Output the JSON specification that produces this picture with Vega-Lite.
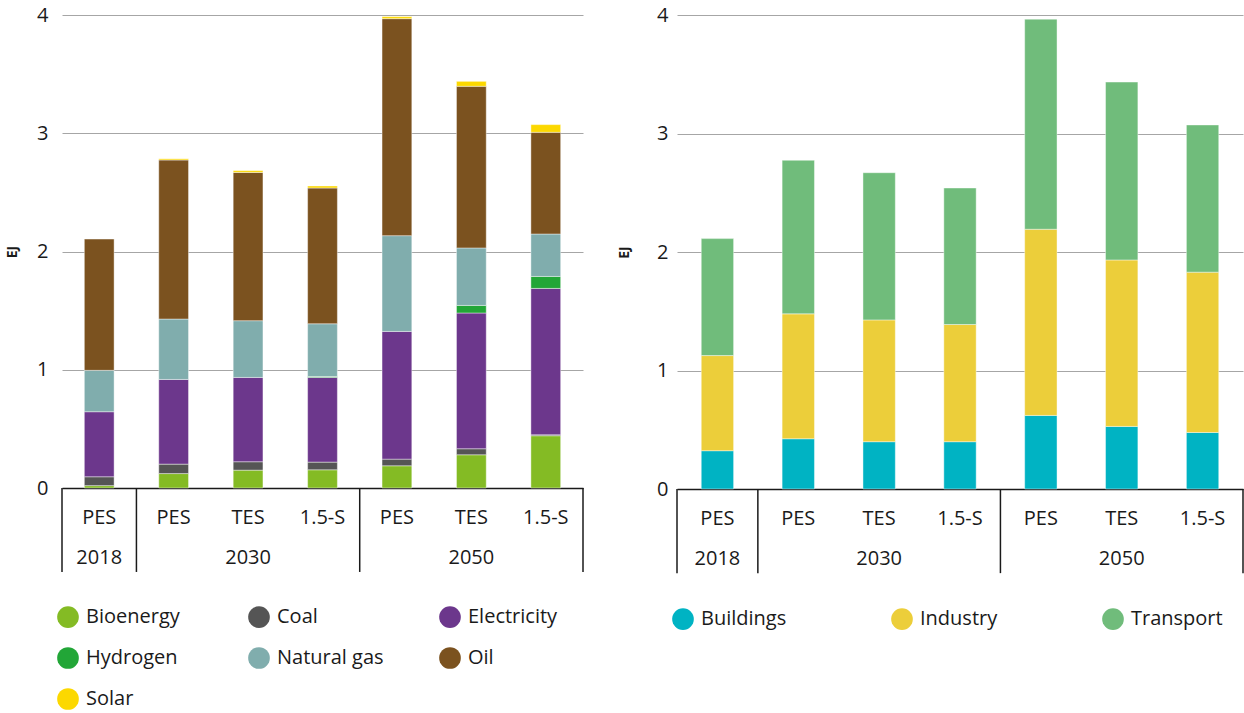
{
  "$schema": "https://vega.github.io/schema/vega-lite/v6.json",
  "background": "white",
  "padding": {"left": 5, "top": 5, "right": 0, "bottom": 0},
  "spacing": 33,
  "resolve": {"scale": {"color": "independent", "x": "independent", "y": "independent"}, "legend": {"color": "independent"}},
  "config": {
    "view": {"stroke": null},
    "font": "Open Sans",
    "axis": {"labelFont": "Open Sans", "titleFont": "Open Sans"},
    "legend": {"labelFont": "Open Sans"}
  },
  "datasets": {
    "fuel": [
      {"bar": "2018 PES", "fuel": "Bioenergy", "value": 0.02},
      {"bar": "2018 PES", "fuel": "Coal", "value": 0.075},
      {"bar": "2018 PES", "fuel": "Electricity", "value": 0.55},
      {"bar": "2018 PES", "fuel": "Natural gas", "value": 0.35},
      {"bar": "2018 PES", "fuel": "Oil", "value": 1.11},
      {"bar": "2030 PES", "fuel": "Bioenergy", "value": 0.122},
      {"bar": "2030 PES", "fuel": "Coal", "value": 0.08},
      {"bar": "2030 PES", "fuel": "Electricity", "value": 0.716},
      {"bar": "2030 PES", "fuel": "Natural gas", "value": 0.511},
      {"bar": "2030 PES", "fuel": "Oil", "value": 1.345},
      {"bar": "2030 PES", "fuel": "Solar", "value": 0.01},
      {"bar": "2030 TES", "fuel": "Bioenergy", "value": 0.151},
      {"bar": "2030 TES", "fuel": "Coal", "value": 0.071},
      {"bar": "2030 TES", "fuel": "Electricity", "value": 0.713},
      {"bar": "2030 TES", "fuel": "Natural gas", "value": 0.48},
      {"bar": "2030 TES", "fuel": "Oil", "value": 1.254},
      {"bar": "2030 TES", "fuel": "Solar", "value": 0.015},
      {"bar": "2030 1.5-S", "fuel": "Bioenergy", "value": 0.154},
      {"bar": "2030 1.5-S", "fuel": "Coal", "value": 0.065},
      {"bar": "2030 1.5-S", "fuel": "Electricity", "value": 0.716},
      {"bar": "2030 1.5-S", "fuel": "Hydrogen", "value": 0.008},
      {"bar": "2030 1.5-S", "fuel": "Natural gas", "value": 0.446},
      {"bar": "2030 1.5-S", "fuel": "Oil", "value": 1.148},
      {"bar": "2030 1.5-S", "fuel": "Solar", "value": 0.017},
      {"bar": "2050 PES", "fuel": "Bioenergy", "value": 0.188},
      {"bar": "2050 PES", "fuel": "Coal", "value": 0.056},
      {"bar": "2050 PES", "fuel": "Electricity", "value": 1.08},
      {"bar": "2050 PES", "fuel": "Natural gas", "value": 0.81},
      {"bar": "2050 PES", "fuel": "Oil", "value": 1.835},
      {"bar": "2050 PES", "fuel": "Solar", "value": 0.017},
      {"bar": "2050 TES", "fuel": "Bioenergy", "value": 0.281},
      {"bar": "2050 TES", "fuel": "Coal", "value": 0.051},
      {"bar": "2050 TES", "fuel": "Electricity", "value": 1.148},
      {"bar": "2050 TES", "fuel": "Hydrogen", "value": 0.064},
      {"bar": "2050 TES", "fuel": "Natural gas", "value": 0.486},
      {"bar": "2050 TES", "fuel": "Oil", "value": 1.367},
      {"bar": "2050 TES", "fuel": "Solar", "value": 0.042},
      {"bar": "2050 1.5-S", "fuel": "Bioenergy", "value": 0.442},
      {"bar": "2050 1.5-S", "fuel": "Coal", "value": 0.008},
      {"bar": "2050 1.5-S", "fuel": "Electricity", "value": 1.238},
      {"bar": "2050 1.5-S", "fuel": "Hydrogen", "value": 0.101},
      {"bar": "2050 1.5-S", "fuel": "Natural gas", "value": 0.359},
      {"bar": "2050 1.5-S", "fuel": "Oil", "value": 0.86},
      {"bar": "2050 1.5-S", "fuel": "Solar", "value": 0.065}
    ],
    "sector": [
      {"bar": "2018 PES", "sector": "Buildings", "value": 0.323},
      {"bar": "2018 PES", "sector": "Industry", "value": 0.803},
      {"bar": "2018 PES", "sector": "Transport", "value": 0.987},
      {"bar": "2030 PES", "sector": "Buildings", "value": 0.424},
      {"bar": "2030 PES", "sector": "Industry", "value": 1.054},
      {"bar": "2030 PES", "sector": "Transport", "value": 1.296},
      {"bar": "2030 TES", "sector": "Buildings", "value": 0.399},
      {"bar": "2030 TES", "sector": "Industry", "value": 1.028},
      {"bar": "2030 TES", "sector": "Transport", "value": 1.242},
      {"bar": "2030 1.5-S", "sector": "Buildings", "value": 0.399},
      {"bar": "2030 1.5-S", "sector": "Industry", "value": 0.989},
      {"bar": "2030 1.5-S", "sector": "Transport", "value": 1.152},
      {"bar": "2050 PES", "sector": "Buildings", "value": 0.621},
      {"bar": "2050 PES", "sector": "Industry", "value": 1.571},
      {"bar": "2050 PES", "sector": "Transport", "value": 1.773},
      {"bar": "2050 TES", "sector": "Buildings", "value": 0.528},
      {"bar": "2050 TES", "sector": "Industry", "value": 1.405},
      {"bar": "2050 TES", "sector": "Transport", "value": 1.501},
      {"bar": "2050 1.5-S", "sector": "Buildings", "value": 0.477},
      {"bar": "2050 1.5-S", "sector": "Industry", "value": 1.353},
      {"bar": "2050 1.5-S", "sector": "Transport", "value": 1.242}
    ],
    "groupStarts": [{"bar": "2018 PES"}, {"bar": "2030 PES"}, {"bar": "2050 PES"}],
    "groupEnd": [{"bar": "2050 1.5-S"}]
  },
  "hconcat": [
    {
      "width": 521,
      "height": 473,
      "layer": [
        {
          "data": {"name": "fuel"},
          "mark": {"type": "bar", "width": {"band": 0.4}, "stroke": "white", "strokeWidth": 0.6, "strokeOpacity": 0.7},
          "encoding": {
            "x": {
              "field": "bar", "type": "nominal",
              "scale": {"domain": ["2018 PES", "2030 PES", "2030 TES", "2030 1.5-S", "2050 PES", "2050 TES", "2050 1.5-S"], "paddingInner": 0, "paddingOuter": 0},
              "axis": {
                "title": null, "grid": false, "ticks": false, "labelAngle": 0,
                "domainColor": "#1a1a1a", "domainWidth": 1.5,
                "labelFontSize": 20, "labelColor": "#1a1a1a", "labelPadding": 19,
                "labelBaseline": "top", "labelLineHeight": 40,
                "labelExpr": "[split(datum.value, ' ')[1], indexof(['2018 PES','2030 TES','2050 TES'], datum.value) >= 0 ? split(datum.value, ' ')[0] : '']"
              }
            },
            "y": {
              "field": "value", "type": "quantitative", "stack": "zero",
              "scale": {"domain": [0, 4], "nice": false},
              "axis": {
                "title": "EJ", "titleFontSize": 14, "titleFontWeight": "bold", "titleColor": "#1a1a1a", "titlePadding": 17,
                "labelFontSize": 20, "labelColor": "#1a1a1a", "labelPadding": 14, "format": "d",
                "domain": false, "ticks": false, "values": [0, 1, 2, 3, 4],
                "grid": true, "gridColor": "#a6a6a6", "gridWidth": 1
              }
            },
            "order": {"field": "fuel", "sort": "ascending"},
            "color": {
              "field": "fuel", "type": "nominal",
              "scale": {
                "domain": ["Bioenergy", "Coal", "Electricity", "Hydrogen", "Natural gas", "Oil", "Solar"],
                "range": ["#84bb24", "#555555", "#6c378c", "#22a637", "#80adad", "#7b521f", "#fcd800"]
              },
              "legend": {
                "title": null, "orient": "none", "legendX": -5, "legendY": 591,
                "direction": "horizontal", "columns": 3, "gridAlign": "all",
                "symbolType": "circle", "symbolSize": 470, "symbolStrokeWidth": 0, "symbolOpacity": 1,
                "labelFontSize": 20, "labelColor": "#1a1a1a", "labelOffset": 7,
                "rowPadding": 19, "columnPadding": 55, "padding": 0
              }
            }
          }
        },
        {
          "data": {"name": "groupStarts"},
          "mark": {"type": "rule", "color": "#1a1a1a", "strokeWidth": 1.5},
          "encoding": {
            "x": {"field": "bar", "type": "nominal", "bandPosition": 0},
            "y": {"datum": 0},
            "y2": {"datum": -0.71}
          }
        },
        {
          "data": {"name": "groupEnd"},
          "mark": {"type": "rule", "color": "#1a1a1a", "strokeWidth": 1.5},
          "encoding": {
            "x": {"field": "bar", "type": "nominal", "bandPosition": 1},
            "y": {"datum": 0},
            "y2": {"datum": -0.71}
          }
        }
      ]
    },
    {
      "width": 566,
      "height": 474,
      "layer": [
        {
          "data": {"name": "sector"},
          "mark": {"type": "bar", "width": {"band": 0.4}, "stroke": "white", "strokeWidth": 0.6, "strokeOpacity": 0.7},
          "encoding": {
            "x": {
              "field": "bar", "type": "nominal",
              "scale": {"domain": ["2018 PES", "2030 PES", "2030 TES", "2030 1.5-S", "2050 PES", "2050 TES", "2050 1.5-S"], "paddingInner": 0, "paddingOuter": 0},
              "axis": {
                "title": null, "grid": false, "ticks": false, "labelAngle": 0,
                "domainColor": "#1a1a1a", "domainWidth": 1.5,
                "labelFontSize": 20, "labelColor": "#1a1a1a", "labelPadding": 19,
                "labelBaseline": "top", "labelLineHeight": 40,
                "labelExpr": "[split(datum.value, ' ')[1], indexof(['2018 PES','2030 TES','2050 TES'], datum.value) >= 0 ? split(datum.value, ' ')[0] : '']"
              }
            },
            "y": {
              "field": "value", "type": "quantitative", "stack": "zero",
              "scale": {"domain": [0, 4], "nice": false},
              "axis": {
                "title": "EJ", "titleFontSize": 14, "titleFontWeight": "bold", "titleColor": "#1a1a1a", "titlePadding": 25,
                "labelFontSize": 20, "labelColor": "#1a1a1a", "labelPadding": 9, "format": "d",
                "domain": false, "ticks": false, "values": [0, 1, 2, 3, 4],
                "grid": true, "gridColor": "#a6a6a6", "gridWidth": 1
              }
            },
            "order": {"field": "sector", "sort": "ascending"},
            "color": {
              "field": "sector", "type": "nominal",
              "scale": {
                "domain": ["Buildings", "Industry", "Transport"],
                "range": ["#00b3c3", "#ecce3a", "#70bc7b"]
              },
              "legend": {
                "title": null, "orient": "none", "legendX": -5, "legendY": 593,
                "direction": "horizontal", "columns": 3, "gridAlign": "each",
                "symbolType": "circle", "symbolSize": 470, "symbolStrokeWidth": 0, "symbolOpacity": 1,
                "labelFontSize": 20, "labelColor": "#1a1a1a", "labelOffset": 7,
                "rowPadding": 19, "columnPadding": 104, "padding": 0
              }
            }
          }
        },
        {
          "data": {"name": "groupStarts"},
          "mark": {"type": "rule", "color": "#1a1a1a", "strokeWidth": 1.5},
          "encoding": {
            "x": {"field": "bar", "type": "nominal", "bandPosition": 0},
            "y": {"datum": 0},
            "y2": {"datum": -0.71}
          }
        },
        {
          "data": {"name": "groupEnd"},
          "mark": {"type": "rule", "color": "#1a1a1a", "strokeWidth": 1.5},
          "encoding": {
            "x": {"field": "bar", "type": "nominal", "bandPosition": 1},
            "y": {"datum": 0},
            "y2": {"datum": -0.71}
          }
        }
      ]
    }
  ]
}
